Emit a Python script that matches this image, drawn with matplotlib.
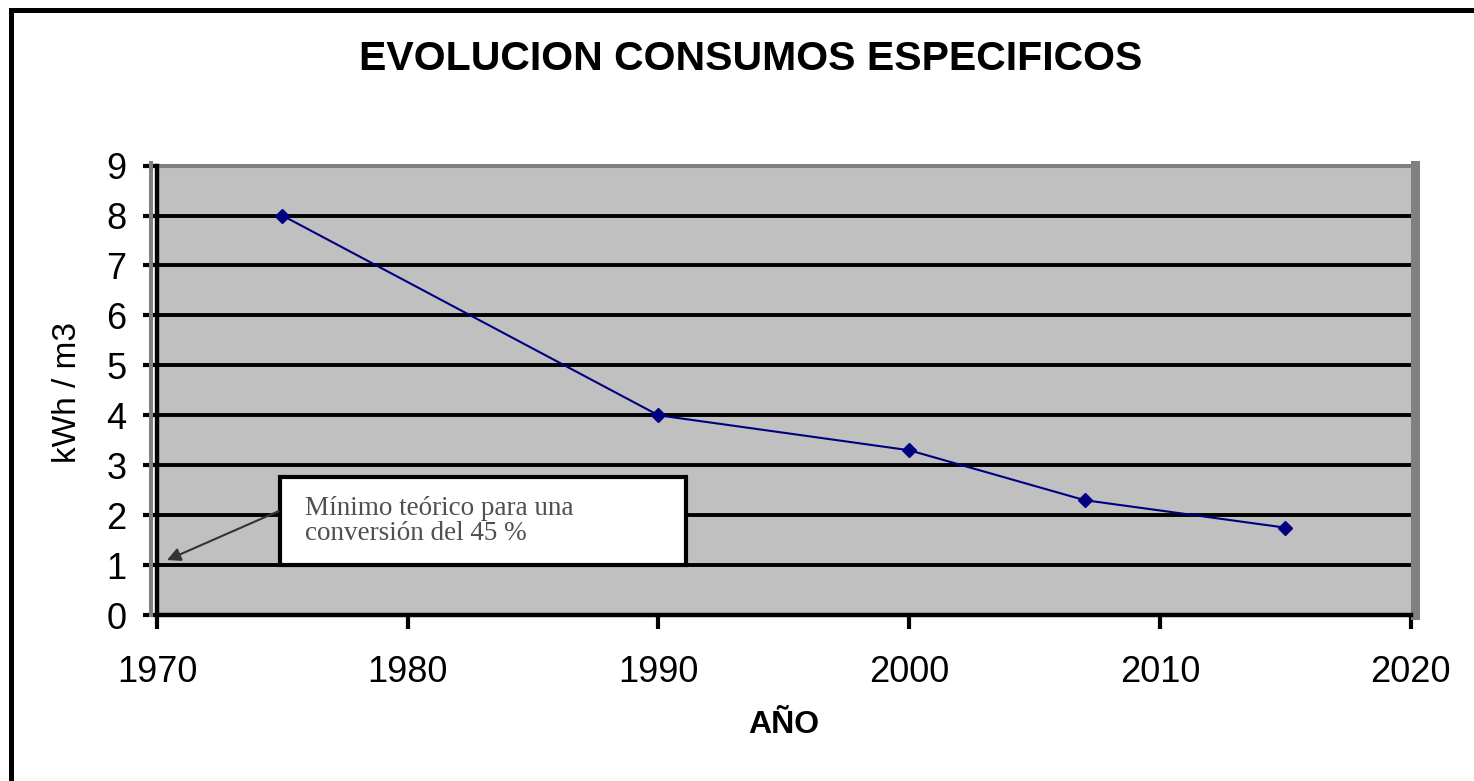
import matplotlib
matplotlib.use('Agg')
import matplotlib.pyplot as plt
from matplotlib.patches import Rectangle
from matplotlib import transforms

plt.rcParams['font.family'] = ['Liberation Sans', 'DejaVu Sans']

# specific consumption (kWh per m3) by year
years = [1975, 1990, 2000, 2007, 2015]
consumo = [8.0, 4.0, 3.3, 2.3, 1.75]

# theoretical minimum for a 45 % conversion
min_year = 1970.4
min_value = 1.1
min_label = 'Mínimo teórico para una\nconversión del 45 %'

xticks = [1970, 1980, 1990, 2000, 2010, 2020]
yticks = list(range(0, 10))

fig = plt.figure(figsize=(14.74, 7.81), dpi=100)
ax = fig.add_axes([0.1065, 0.2125, 0.8505, 0.5755])

ax.set_facecolor('#c0c0c0')
ax.set_xlim(1970, 2020)
ax.set_ylim(0, 9)
ax.set_xticks(xticks)
ax.set_yticks(yticks)

for y in yticks[1:-1]:
    ax.axhline(y, color='black', lw=2.8, zorder=1)

# grey plot-area frame with a heavier right edge, black axis lines
ax.spines['top'].set_color('#808080')
ax.spines['top'].set_linewidth(2.9)
ax.spines['right'].set_color('#808080')
ax.spines['right'].set_linewidth(6.5)
ax.spines['right'].set_position(('outward', 3))
ax.spines['right'].set_bounds(0, 9.02)
for side in ['left', 'bottom']:
    ax.spines[side].set_linewidth(3.2)
    ax.spines[side].set_zorder(3)
shift = transforms.ScaledTranslation(-5.5 / 100, 0, fig.dpi_scale_trans)
ax.plot([0, 0], [0, 1.005], color='#808080', lw=2.9, clip_on=False,
        transform=ax.transAxes + shift, zorder=2)

ax.tick_params(axis='both', direction='out', length=10, width=3,
               labelsize=26, color='black')
ax.tick_params(axis='y', pad=12)
ax.tick_params(axis='x', pad=19)

ax.plot(years, consumo, color='#000080', lw=1.5, marker='D', markersize=7,
        zorder=4)

# annotation box for the theoretical minimum
box = Rectangle((1974.9, 1.0), 16.2, 1.76, facecolor='white',
                edgecolor='black', lw=3, zorder=5)
ax.add_patch(box)
ax.text(1975.9, 1.88, min_label, family=['Liberation Serif', 'DejaVu Serif'],
        fontsize=19.5, va='center', ha='left', linespacing=1.0, zorder=6,
        color='#505050')
ax.annotate('', xy=(min_year, min_value), xytext=(1974.85, 2.08),
            arrowprops=dict(arrowstyle='-|>', color='#333333', lw=1.5,
                            mutation_scale=20, shrinkA=0, shrinkB=0),
            zorder=6)

fig.text(0.509, 0.9245, 'EVOLUCION CONSUMOS ESPECIFICOS', ha='center',
         va='center', fontsize=29.5, fontweight='bold')
fig.text(0.532, 0.072, 'AÑO', ha='center', va='center', fontsize=23,
         fontweight='bold')
fig.text(0.046, 0.497, 'kWh / m3', ha='center', va='center', fontsize=24,
         rotation=90)

# outer chart frame
fig.patches.append(Rectangle((10.5 / 1474, -0.1), 1.2, 1.1 - 9.5 / 781,
                             transform=fig.transFigure, fill=False,
                             edgecolor='black', lw=3.6))

fig.savefig('out.png', dpi=100)
